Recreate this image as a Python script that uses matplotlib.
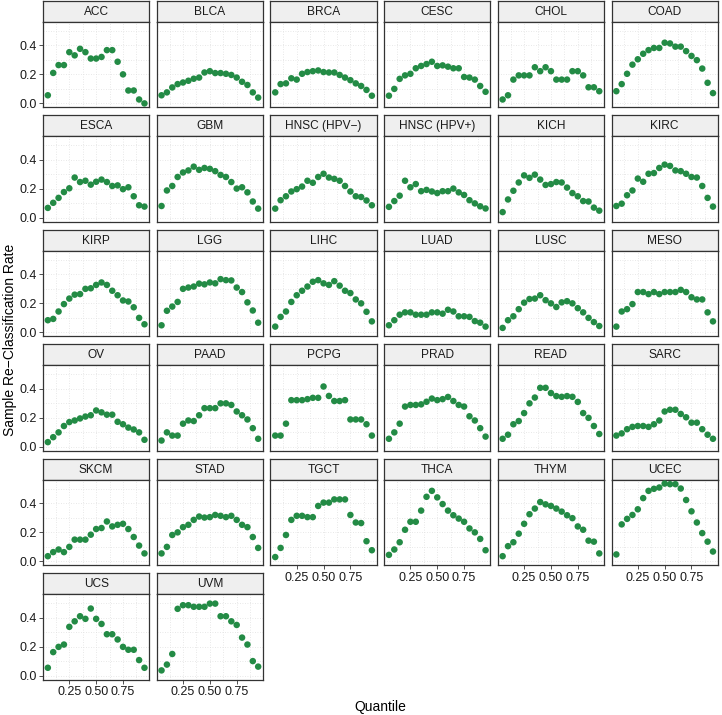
import matplotlib
matplotlib.use('Agg')
from matplotlib import pyplot as plt
from matplotlib.ticker import MultipleLocator, FixedLocator

plt.rcParams['font.family'] = ['Liberation Sans', 'DejaVu Sans']

quantiles = [0.05, 0.10, 0.15, 0.20, 0.25, 0.30, 0.35, 0.40, 0.45, 0.50,
             0.55, 0.60, 0.65, 0.70, 0.75, 0.80, 0.85, 0.90, 0.95]

# re-classification rate per quantile, one list per cancer type
acc = [0.056, 0.21, 0.264, 0.264, 0.353, 0.331, 0.376, 0.353, 0.309, 0.309, 0.32, 0.367, 0.367, 0.287, 0.2, 0.089, 0.089, 0.027, 0.0]
blca = [0.056, 0.076, 0.11, 0.133, 0.144, 0.156, 0.17, 0.178, 0.213, 0.222, 0.209, 0.209, 0.204, 0.196, 0.178, 0.149, 0.127, 0.076, 0.04]
brca = [0.076, 0.133, 0.138, 0.173, 0.164, 0.204, 0.216, 0.222, 0.227, 0.216, 0.213, 0.213, 0.196, 0.178, 0.16, 0.138, 0.12, 0.093, 0.053]
cesc = [0.053, 0.1, 0.169, 0.193, 0.204, 0.242, 0.258, 0.271, 0.287, 0.258, 0.262, 0.253, 0.242, 0.242, 0.182, 0.178, 0.164, 0.12, 0.08]
chol = [0.027, 0.056, 0.164, 0.193, 0.193, 0.193, 0.249, 0.222, 0.249, 0.222, 0.164, 0.164, 0.164, 0.222, 0.222, 0.193, 0.111, 0.111, 0.084]
coad = [0.084, 0.133, 0.204, 0.267, 0.304, 0.342, 0.367, 0.382, 0.382, 0.418, 0.413, 0.391, 0.391, 0.36, 0.327, 0.298, 0.24, 0.142, 0.071]
esca = [0.069, 0.104, 0.138, 0.178, 0.204, 0.278, 0.247, 0.256, 0.229, 0.249, 0.264, 0.247, 0.22, 0.224, 0.198, 0.211, 0.149, 0.087, 0.078]
gbm = [0.082, 0.189, 0.22, 0.282, 0.313, 0.327, 0.353, 0.331, 0.344, 0.338, 0.322, 0.296, 0.282, 0.247, 0.202, 0.211, 0.176, 0.113, 0.064]
hnsc_neg = [0.064, 0.122, 0.149, 0.182, 0.198, 0.216, 0.256, 0.242, 0.282, 0.304, 0.278, 0.269, 0.256, 0.22, 0.182, 0.149, 0.144, 0.12, 0.087]
hnsc_pos = [0.076, 0.116, 0.153, 0.256, 0.211, 0.233, 0.184, 0.193, 0.182, 0.171, 0.184, 0.184, 0.202, 0.176, 0.158, 0.122, 0.1, 0.08, 0.065]
kich = [0.04, 0.127, 0.187, 0.244, 0.293, 0.276, 0.298, 0.264, 0.227, 0.233, 0.247, 0.244, 0.209, 0.171, 0.149, 0.116, 0.113, 0.071, 0.05]
kirc = [0.082, 0.098, 0.156, 0.189, 0.271, 0.249, 0.304, 0.309, 0.344, 0.367, 0.358, 0.327, 0.322, 0.304, 0.282, 0.278, 0.22, 0.138, 0.078]
kirp = [0.084, 0.093, 0.144, 0.195, 0.233, 0.26, 0.264, 0.3, 0.304, 0.327, 0.344, 0.327, 0.287, 0.256, 0.22, 0.213, 0.173, 0.1, 0.056]
lgg = [0.049, 0.149, 0.178, 0.21, 0.3, 0.309, 0.316, 0.336, 0.331, 0.344, 0.338, 0.367, 0.36, 0.358, 0.309, 0.278, 0.207, 0.151, 0.067]
lihc = [0.04, 0.107, 0.144, 0.21, 0.256, 0.287, 0.316, 0.349, 0.36, 0.338, 0.327, 0.353, 0.322, 0.287, 0.271, 0.227, 0.2, 0.142, 0.076]
luad = [0.049, 0.084, 0.122, 0.138, 0.138, 0.122, 0.122, 0.122, 0.138, 0.138, 0.129, 0.156, 0.144, 0.111, 0.111, 0.107, 0.078, 0.067, 0.04]
lusc = [0.031, 0.084, 0.111, 0.16, 0.205, 0.23, 0.233, 0.256, 0.222, 0.2, 0.175, 0.207, 0.215, 0.2, 0.167, 0.138, 0.1, 0.071, 0.044]
meso = [0.04, 0.144, 0.16, 0.195, 0.278, 0.278, 0.264, 0.278, 0.264, 0.278, 0.278, 0.278, 0.293, 0.278, 0.242, 0.227, 0.227, 0.138, 0.076]
ov = [0.033, 0.067, 0.1, 0.144, 0.171, 0.182, 0.196, 0.209, 0.218, 0.251, 0.238, 0.222, 0.222, 0.173, 0.156, 0.133, 0.12, 0.1, 0.049]
paad = [0.044, 0.1, 0.078, 0.078, 0.16, 0.182, 0.178, 0.218, 0.267, 0.267, 0.267, 0.3, 0.3, 0.289, 0.244, 0.218, 0.189, 0.129, 0.056]
pcpg = [0.078, 0.078, 0.16, 0.322, 0.322, 0.322, 0.329, 0.338, 0.338, 0.416, 0.351, 0.316, 0.316, 0.322, 0.189, 0.189, 0.189, 0.156, 0.078]
prad = [0.056, 0.1, 0.16, 0.278, 0.289, 0.289, 0.293, 0.311, 0.333, 0.322, 0.329, 0.344, 0.316, 0.289, 0.278, 0.211, 0.182, 0.129, 0.071]
read = [0.056, 0.084, 0.156, 0.178, 0.233, 0.3, 0.34, 0.407, 0.407, 0.371, 0.35, 0.345, 0.35, 0.345, 0.31, 0.233, 0.2, 0.144, 0.089]
sarc = [0.078, 0.093, 0.122, 0.138, 0.144, 0.144, 0.138, 0.156, 0.182, 0.244, 0.256, 0.256, 0.227, 0.204, 0.167, 0.167, 0.122, 0.084, 0.056]
skcm = [0.036, 0.064, 0.082, 0.064, 0.1, 0.15, 0.15, 0.15, 0.184, 0.223, 0.23, 0.275, 0.241, 0.252, 0.259, 0.223, 0.168, 0.109, 0.055]
stad = [0.055, 0.1, 0.182, 0.2, 0.236, 0.252, 0.286, 0.309, 0.302, 0.305, 0.32, 0.314, 0.305, 0.314, 0.286, 0.252, 0.236, 0.168, 0.093]
tgct = [0.03, 0.093, 0.182, 0.286, 0.314, 0.314, 0.305, 0.305, 0.382, 0.405, 0.405, 0.427, 0.427, 0.427, 0.32, 0.268, 0.264, 0.139, 0.077]
thca = [0.045, 0.082, 0.132, 0.218, 0.273, 0.273, 0.35, 0.445, 0.486, 0.441, 0.395, 0.35, 0.318, 0.295, 0.273, 0.227, 0.2, 0.155, 0.077]
thym = [0.036, 0.105, 0.132, 0.191, 0.259, 0.325, 0.364, 0.409, 0.393, 0.382, 0.364, 0.343, 0.318, 0.298, 0.241, 0.218, 0.143, 0.136, 0.055]
ucec = [0.048, 0.255, 0.293, 0.32, 0.359, 0.436, 0.486, 0.5, 0.509, 0.536, 0.532, 0.532, 0.502, 0.423, 0.345, 0.268, 0.195, 0.136, 0.068]
ucs = [0.056, 0.164, 0.2, 0.216, 0.338, 0.376, 0.411, 0.393, 0.464, 0.393, 0.358, 0.287, 0.287, 0.251, 0.2, 0.18, 0.18, 0.109, 0.056]
uvm = [0.038, 0.078, 0.151, 0.462, 0.487, 0.487, 0.476, 0.476, 0.476, 0.498, 0.498, 0.411, 0.411, 0.376, 0.351, 0.264, 0.216, 0.102, 0.064]

cancer_types = ['ACC', 'BLCA', 'BRCA', 'CESC', 'CHOL', 'COAD',
                'ESCA', 'GBM', 'HNSC (HPV\u2212)', 'HNSC (HPV+)', 'KICH', 'KIRC',
                'KIRP', 'LGG', 'LIHC', 'LUAD', 'LUSC', 'MESO',
                'OV', 'PAAD', 'PCPG', 'PRAD', 'READ', 'SARC',
                'SKCM', 'STAD', 'TGCT', 'THCA', 'THYM', 'UCEC',
                'UCS', 'UVM']
rates = [acc, blca, brca, cesc, chol, coad, esca, gbm, hnsc_neg, hnsc_pos, kich, kirc,
         kirp, lgg, lihc, luad, lusc, meso, ov, paad, pcpg, prad, read, sarc,
         skcm, stad, tgct, thca, thym, ucec, ucs, uvm]

W, H = 722, 715
fig = plt.figure(figsize=(W / 100, H / 100), dpi=100)

# facet grid geometry in pixels
n_cols = 6
col_left0, col_step, panel_w = 43, 113.7, 106.3
row_top0, row_step, strip_h, panel_h = 0.7, 114.5, 21, 85.6

# shared scales (ggplot style 5% expansion)
all_vals = [v for r in rates for v in r]
ymin, ymax = min(all_vals), max(all_vals)
ypad = (ymax - ymin) * 0.05
xpad = (max(quantiles) - min(quantiles)) * 0.05

green = '#238b45'
border = '#333333'
n = len(cancer_types)

for i, (name, vals) in enumerate(zip(cancer_types, rates)):
    r, c = i // n_cols, i % n_cols
    left = col_left0 + c * col_step
    top = row_top0 + r * row_step

    # strip
    sax = fig.add_axes([left / W, 1 - (top + strip_h) / H, panel_w / W, strip_h / H])
    sax.set_facecolor('#efefef')
    sax.set_xticks([])
    sax.set_yticks([])
    for sp in sax.spines.values():
        sp.set_color(border)
        sp.set_linewidth(0.9)
    sax.text(0.5, 0.48, name, ha='center', va='center', fontsize=8.6, color='#1a1a1a',
             transform=sax.transAxes)

    # panel
    ax = fig.add_axes([left / W, 1 - (top + strip_h + panel_h) / H, panel_w / W, panel_h / H])
    ax.set_xlim(min(quantiles) - xpad, max(quantiles) + xpad)
    ax.set_ylim(ymin - ypad, ymax + ypad)
    ax.xaxis.set_major_locator(FixedLocator([0.25, 0.5, 0.75]))
    ax.xaxis.set_minor_locator(FixedLocator([0.125, 0.375, 0.625, 0.875]))
    ax.yaxis.set_major_locator(MultipleLocator(0.2))
    ax.yaxis.set_minor_locator(MultipleLocator(0.1))
    ax.grid(which='both', linestyle=(0, (1, 2)), color='#e0e0e0', linewidth=0.6)
    ax.set_axisbelow(True)
    for sp in ax.spines.values():
        sp.set_color(border)
        sp.set_linewidth(0.9)
    ax.tick_params(which='minor', length=0)
    ax.tick_params(which='major', length=3, width=0.6, color='#333333', labelsize=9,
                   labelcolor='#1a1a1a', pad=1.5)

    ax.scatter(quantiles, vals, s=22, color=green, edgecolors='none', zorder=3)

    ax.yaxis.set_major_formatter(plt.FuncFormatter(lambda v, p: '{:.1f}'.format(v)))
    ax.xaxis.set_major_formatter(plt.FuncFormatter(lambda v, p: '{:.2f}'.format(v)))
    if c != 0:
        ax.tick_params(axis='y', which='major', length=0, labelleft=False)
    if i + n_cols < n:
        ax.tick_params(axis='x', which='major', length=0, labelbottom=False)

grid_left = col_left0
grid_right = col_left0 + (n_cols - 1) * col_step + panel_w
grid_bottom = row_top0 + 5 * row_step + strip_h + panel_h
fig.text(((grid_left + grid_right) / 2) / W, 1 - 707 / H, 'Quantile',
         ha='center', va='center', fontsize=10, color='black')
fig.text(10 / W, 1 - ((row_top0 + grid_bottom) / 2) / H, 'Sample Re\u2212Classification Rate',
         ha='center', va='center', rotation=90, fontsize=10, color='black')

fig.savefig('out.png', dpi=100, facecolor='white')
